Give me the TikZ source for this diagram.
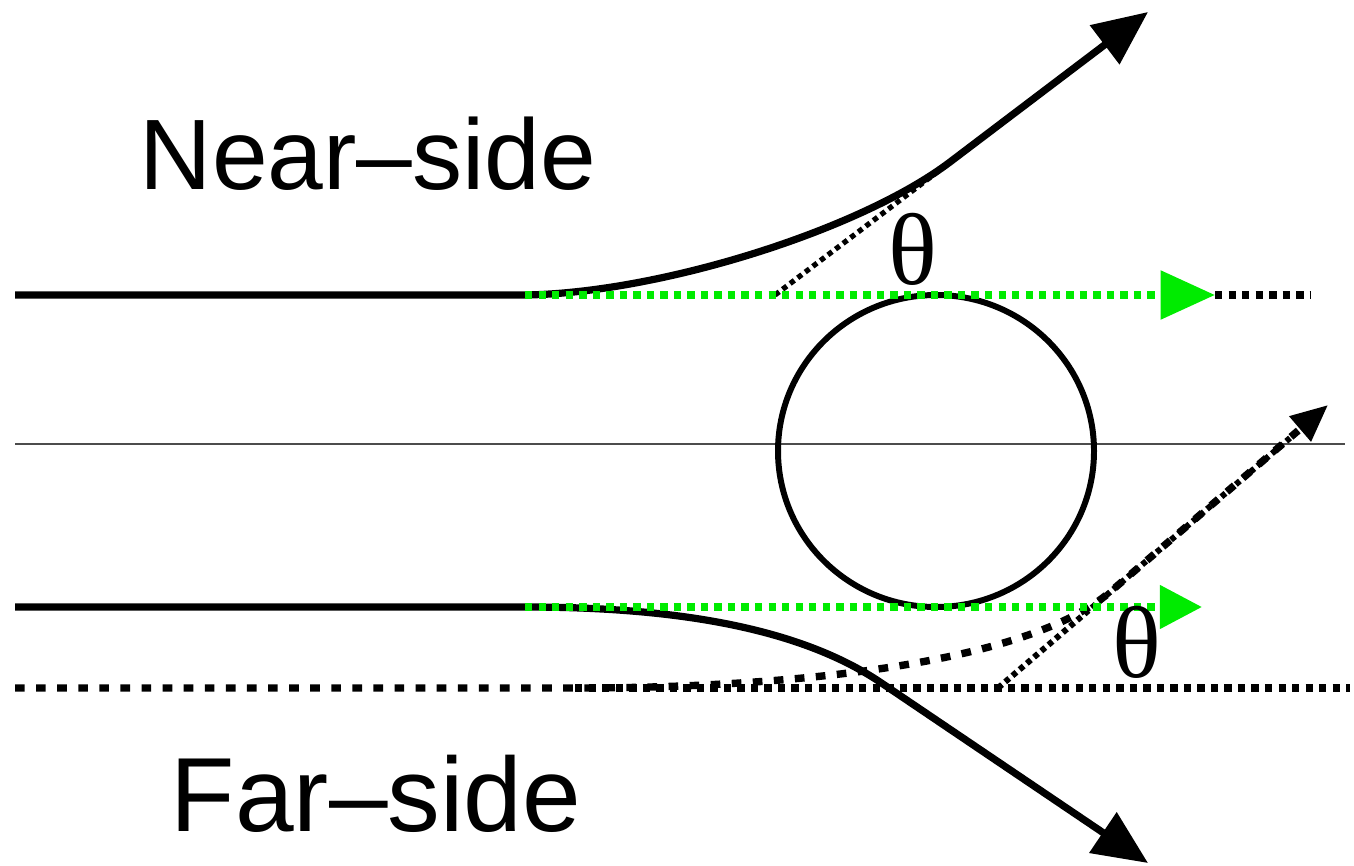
\documentclass[tikz,border=0pt]{standalone}
\usepackage{fontspec}
\setmainfont{Liberation Sans}
\newfontfamily\seriffont{Liberation Serif}
\usetikzlibrary{arrows.meta}
\definecolor{lime}{RGB}{0,235,0}
\begin{document}
\begin{tikzpicture}[x=0.02cm,y=-0.02cm,
  solidline/.style={line width=4.1pt},
  greendots/.style={draw=lime,line width=4.3pt,dash pattern=on 4.2pt off 3.5pt},
  blackdots/.style={line width=4.3pt,dash pattern=on 4.2pt off 3.5pt},
  finedots/.style={line width=3pt,dash pattern=on 3pt off 2.4pt},
  dashcurve/.style={line width=4.2pt,dash pattern=on 5.5pt off 6.5pt},
  biglabel/.style={font=\fontsize{57}{60}\selectfont,inner sep=0pt,anchor=base},
  anglelabel/.style={font=\seriffont\fontsize{58}{60}\selectfont,inner sep=0pt,anchor=base}]
\useasboundingbox (0,0) rectangle (1354,865);
% coordinates
\coordinate (nstart) at (15,295);
\coordinate (nbend) at (525,295);
\coordinate (njoin) at (950,162);
\coordinate (ntip) at (1148,12);
\coordinate (ntan) at (775,295);
\coordinate (ntanend) at (1110,41);
\coordinate (ngreen) at (1215,295);
\coordinate (nend) at (1310,295);
\coordinate (ball) at (936,451);
\coordinate (axl) at (15,444);
\coordinate (axr) at (1345,444);
\coordinate (fstart) at (15,607);
\coordinate (fbend) at (525,607);
\coordinate (fjoin) at (880,682);
\coordinate (ftip) at (1148,863);
\coordinate (fgreen) at (1202,607);
\coordinate (dotl) at (575,688);
\coordinate (dotr) at (1350,688);
\coordinate (dstart) at (15,688);
\coordinate (dbend) at (575,688);
\coordinate (djoin) at (1110,592);
\coordinate (dtip) at (1328,405);
\coordinate (btan) at (998,688);
\coordinate (btanend) at (1290,438);
% axis
\draw[line width=1.3pt,black!70] (axl) -- (axr);
% sphere
\draw[line width=3.4pt] (ball) circle [x radius=158, y radius=156];
% near side
\draw[finedots] (ntan) -- (ntanend);
\draw[solidline,-{Triangle[length=31pt,width=27pt]}] (nstart) -- (nbend) .. controls (660,293) and (860,230) .. (njoin) -- (ntip);
\draw[blackdots] (ngreen) -- (nend);
\draw[greendots,-{Triangle[length=31pt,width=27pt]}] (nbend) -- (ngreen);
% far side
\draw[blackdots] (dotl) -- (dotr);
\draw[finedots,line width=3.4pt] (btan) -- (btanend);
\draw[dashcurve,-{Triangle[length=21pt,width=18pt]}] (dstart) -- (dbend) .. controls (790,688) and (1026,664) .. (djoin) -- (dtip);
\draw[solidline,-{Triangle[length=31pt,width=27pt]}] (fstart) -- (fbend) .. controls (690,607) and (805,632) .. (fjoin) -- (ftip);
\draw[greendots,-{Triangle[length=24pt,width=24pt]}] (fbend) -- (fgreen);
% labels
\node[biglabel] (near) at (368,189) {Near–side};
\node[biglabel,font=\fontsize{60}{62}\selectfont] (far) at (376,831) {Far–side};
\node[anglelabel] (thtop) at (913,284) {θ};
\node[anglelabel] (thbot) at (1137,677) {θ};
\end{tikzpicture}
\end{document}
